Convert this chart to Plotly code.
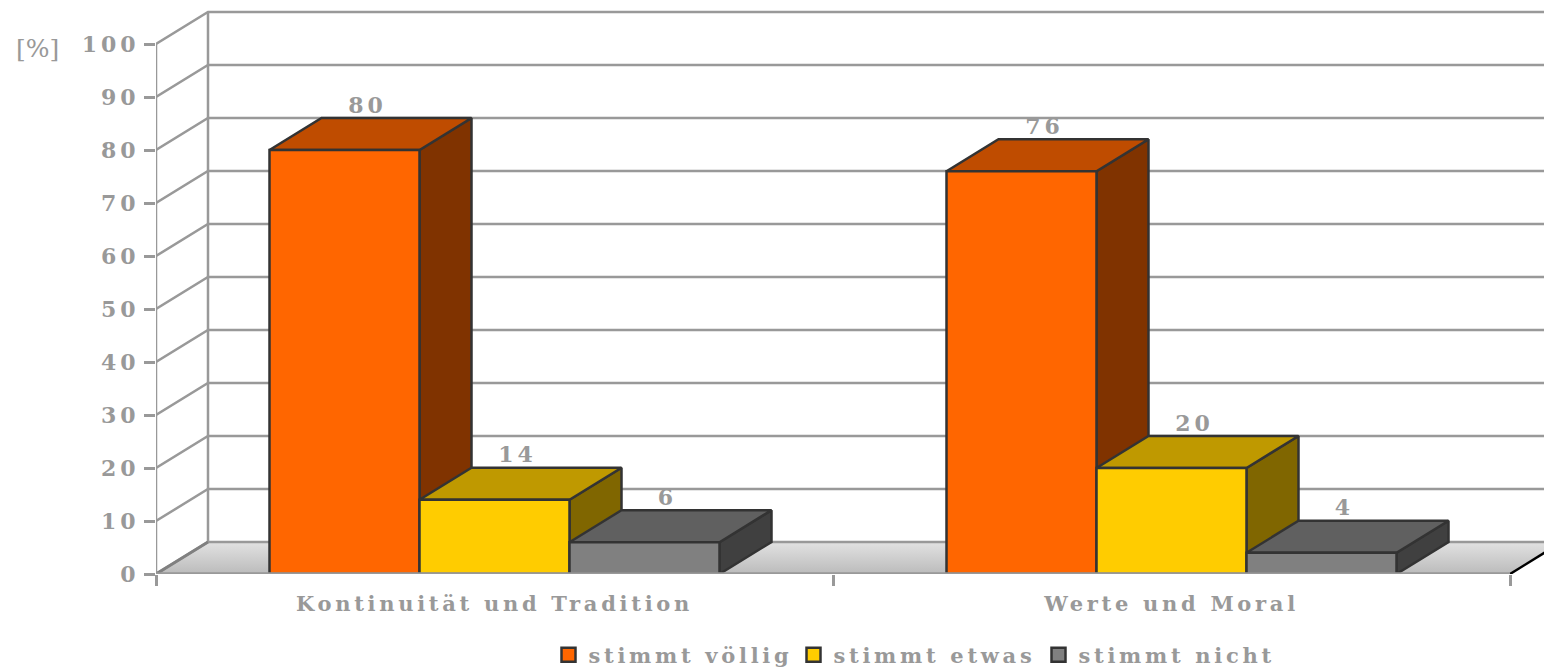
import plotly.graph_objects as go

categories = ["Kontinuität und Tradition", "Werte und Moral"]
series_names = ["stimmt völlig", "stimmt etwas", "stimmt nicht"]
voellig = [80, 76]
etwas = [14, 20]
nicht = [6, 4]
y_ticks = [0, 10, 20, 30, 40, 50, 60, 70, 80, 90, 100]

series_values = [voellig, etwas, nicht]
front_colors = ["#FF6600", "#FFCC00", "#808080"]
side_colors = ["#803300", "#806600", "#404040"]
top_colors = ["#BF4C00", "#BF9900", "#606060"]
TXT = "#999999"
EDGE = "#333333"
FONT = "DejaVu Serif"
LW = 2.5

W, H = 1544, 669
L, B, T = 156, 95, 8
PX_X = 677.0
PX_Y = 5.3
DX = 52 / PX_X
DY = 32 / PX_Y
BAR_W = 150 / PX_X
n = len(categories)
x_end = (W - L) / PX_X
y_end = (H - B - T) / PX_Y

fig = go.Figure()

# floor
fig.add_trace(go.Scatter(
    x=[0, n, n + DX, DX, 0], y=[0, 0, DY, DY, 0], mode="lines", fill="toself",
    fillgradient=dict(type="vertical", colorscale=[[0, "#BBBBBB"], [1, "#E2E2E2"]]),
    line=dict(color="rgba(0,0,0,0)", width=0), showlegend=False, hoverinfo="skip"))

# walls
gx, gy = [], []
for v in y_ticks:
    gx += [0, DX, n + DX, None]
    gy += [v, v + DY, v + DY, None]
fig.add_trace(go.Scatter(x=gx, y=gy, mode="lines", line=dict(color="#999999", width=LW),
                         showlegend=False, hoverinfo="skip", cliponaxis=False))
fig.add_trace(go.Scatter(x=[DX, DX, None, 0, 0], y=[DY, y_ticks[-1] + DY, None, 0, y_ticks[-1]], mode="lines",
                         line=dict(color="#999999", width=LW), showlegend=False, hoverinfo="skip", cliponaxis=False))
fig.add_trace(go.Scatter(x=[0, DX], y=[0, DY], mode="lines", line=dict(color="#808080", width=LW + 0.5),
                         showlegend=False, hoverinfo="skip", cliponaxis=False))
fig.add_trace(go.Scatter(x=[n, n + DX], y=[0, DY], mode="lines", line=dict(color="#000000", width=LW),
                         showlegend=False, hoverinfo="skip"))

# 3D bars
lab_x, lab_y, lab_t = [], [], []
for s, vals in enumerate(series_values):
    fx, fy, sx, sy, tx, ty = [], [], [], [], [], []
    for c, v in enumerate(vals):
        x0 = c + 0.5 + (s - 1.5) * BAR_W
        x1 = x0 + BAR_W
        fx += [x0, x1, x1, x0, x0, None]
        fy += [0, 0, v, v, 0, None]
        sx += [x1, x1 + DX, x1 + DX, x1, x1, None]
        sy += [0, DY, v + DY, v, 0, None]
        tx += [x0, x1, x1 + DX, x0 + DX, x0, None]
        ty += [v, v, v + DY, v + DY, v, None]
        lab_x.append((x0 + x1) / 2 + 23 / PX_X)
        lab_y.append(v + DY)
        lab_t.append(str(v))
    for xs, ys, col in [(sx, sy, side_colors[s]), (tx, ty, top_colors[s]), (fx, fy, front_colors[s])]:
        fig.add_trace(go.Scatter(x=xs, y=ys, mode="lines", fill="toself", fillcolor=col,
                                 line=dict(color=EDGE, width=LW), showlegend=False, hoverinfo="skip"))

fig.add_trace(go.Scatter(x=lab_x, y=lab_y, mode="text", text=lab_t, textposition="top center",
                         textfont=dict(family=FONT, size=22, color=TXT, weight=700),
                         showlegend=False, hoverinfo="skip", cliponaxis=False))

# front axis line
fig.add_trace(go.Scatter(x=[0, n], y=[0, 0], mode="lines", line=dict(color="#999999", width=3.5),
                         showlegend=False, hoverinfo="skip", cliponaxis=False))

# legend entries
for s, name in enumerate(series_names):
    fig.add_trace(go.Scatter(x=[None], y=[None], mode="markers", name=name,
                             marker=dict(symbol="square", size=14, color=front_colors[s],
                                         line=dict(color=EDGE, width=2.5))))

fig.update_layout(
    width=W, height=H, margin=dict(l=L, r=0, t=T, b=B, pad=0, autoexpand=False),
    paper_bgcolor="white", plot_bgcolor="white",
    xaxis=dict(range=[0, x_end], showgrid=False, zeroline=False, showline=False,
               tickmode="array", tickvals=[c + 0.5 for c in range(n)], ticktext=categories,
               ticks="", ticklabelstandoff=15,
               tickfont=dict(family=FONT, size=21, color=TXT, weight=700),
               minor=dict(tickmode="array", tickvals=list(range(n + 1)), ticks="outside", ticklen=11,
                          tickwidth=LW, tickcolor="#999999", showgrid=False)),
    yaxis=dict(range=[0, y_end], showgrid=False, zeroline=False, showline=False,
               tickmode="array", tickvals=y_ticks, ticks="outside", ticklen=11, tickwidth=LW,
               tickcolor="#999999", ticklabelstandoff=0,
               tickfont=dict(family=FONT, size=22, color=TXT, weight=700)),
    legend=dict(orientation="h", x=916 / W, xref="container", y=1 - 655 / H, yref="container",
                xanchor="center", yanchor="middle", itemwidth=30, entrywidth=200, entrywidthmode="pixels",
                font=dict(family=FONT, size=21, color=TXT, weight=700), bgcolor="rgba(0,0,0,0)"),
    annotations=[dict(text="[%]", xref="paper", yref="paper", x=-142 / (W - L), y=(574 - 49) / (H - B - T),
                      xanchor="left", yanchor="middle", showarrow=False,
                      font=dict(family=FONT, size=25, color=TXT))],
)
post = """
document.body.style.margin='0';
document.querySelectorAll('.xtick text,.legendtext').forEach(function(t){t.style.letterSpacing='3.7px';});
document.querySelectorAll('.textpoint text,.ytick text').forEach(function(t){t.style.letterSpacing='4px';});
"""
fig.write_html("out.html", post_script=post, config={"displayModeBar": False})
